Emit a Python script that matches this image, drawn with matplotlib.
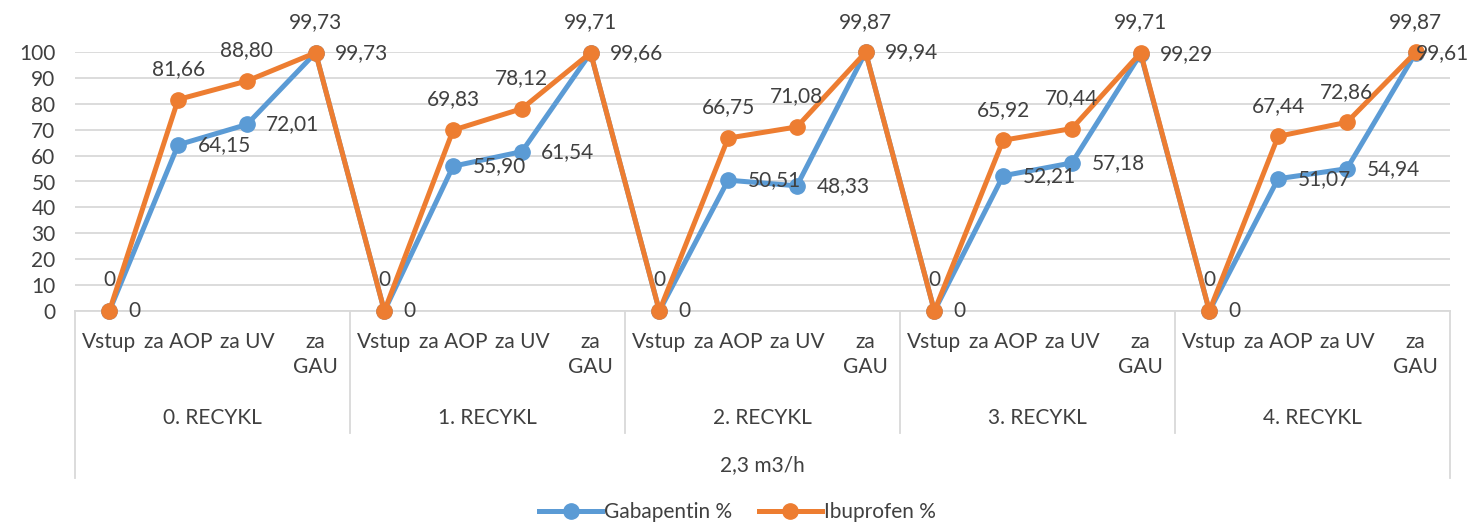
import matplotlib.pyplot as plt
import matplotlib.transforms as mtransforms

plt.rcParams['font.family'] = ['Lato', 'DejaVu Sans']

# 数据
kroky = ['Vstup', 'za AOP', 'za UV', 'za\nGAU']
recykly = ['0. RECYKL', '1. RECYKL', '2. RECYKL', '3. RECYKL', '4. RECYKL']
prutok = '2,3 m3/h'
gabapentin = [0, 64.15, 72.01, 99.73,
              0, 55.90, 61.54, 99.66,
              0, 50.51, 48.33, 99.94,
              0, 52.21, 57.18, 99.29,
              0, 51.07, 54.94, 99.61]
ibuprofen = [0, 81.66, 88.80, 99.73,
             0, 69.83, 78.12, 99.71,
             0, 66.75, 71.08, 99.87,
             0, 65.92, 70.44, 99.71,
             0, 67.44, 72.86, 99.87]

modra = '#5B9BD5'
oranzova = '#ED7D31'
sediva = '#D9D9D9'
text_barva = '#404040'
fs = 15

def fmt(v):
    return '0' if v == 0 else f'{v:.2f}'.replace('.', ',')

fig = plt.figure(figsize=(14.75, 5.28), dpi=100)
ax = fig.add_axes([75 / 1475, 1 - 311 / 528, 1375 / 1475, 259 / 528])

x = list(range(len(gabapentin)))
ax.plot(x, gabapentin, color=modra, lw=3.6, marker='o', ms=11,
        label='Gabapentin %', clip_on=False, zorder=3)
ax.plot(x, ibuprofen, color=oranzova, lw=3.6, marker='o', ms=11,
        label='Ibuprofen %', clip_on=False, zorder=4)

# popisky hodnot
for i, v in enumerate(gabapentin):
    dx = 0 if i == len(x) - 1 else 14
    ax.annotate(fmt(v), (i, v), xytext=(dx, 0), textcoords='offset points',
                ha='left', va='center', fontsize=fs, color=text_barva, zorder=5)
for i, v in enumerate(ibuprofen):
    ax.annotate(fmt(v), (i, v), xytext=(0, 22), textcoords='offset points',
                ha='center', va='center', fontsize=fs, color=text_barva, zorder=5)

ax.set_xlim(-0.5, len(x) - 0.5)
ax.set_ylim(0, 100)
ax.set_yticks(range(0, 101, 10))
ax.tick_params(axis='y', length=0, pad=14, labelsize=fs, labelcolor=text_barva)
ax.set_xticks([])
ax.grid(axis='y', color=sediva, lw=1.3)
ax.set_axisbelow(True)
for s in ['left', 'right', 'top']:
    ax.spines[s].set_visible(False)
ax.spines['bottom'].set_color(sediva)
ax.spines['bottom'].set_linewidth(1.3)

# víceúrovňová osa x
trans = mtransforms.blended_transform_factory(ax.transData, ax.transAxes)
for i in x:
    ax.text(i, -0.08, kroky[i % 4], transform=trans, ha='center', va='top',
            fontsize=fs, color=text_barva, linespacing=1.35)
for g, nazev in enumerate(recykly):
    ax.text(g * 4 + 1.5, -0.413, nazev, transform=trans, ha='center', va='center',
            fontsize=fs, color=text_barva)
ax.text((len(x) - 1) / 2, -0.595, prutok, transform=trans, ha='center', va='center',
        fontsize=fs, color=text_barva)

for g in range(len(recykly) + 1):
    hrana = g * 4 - 0.5
    dolu = -0.645 if g in (0, len(recykly)) else -0.471
    ax.plot([hrana, hrana], [0, dolu], transform=trans, color=sediva, lw=1.3,
            clip_on=False)

fig.legend(loc='lower center', bbox_to_anchor=(0.5, -0.025), ncol=2, frameon=False,
           fontsize=fs, handlelength=3.0, handletextpad=0.1, columnspacing=1.3,
           labelcolor=text_barva)

fig.savefig('out.png', dpi=100)
